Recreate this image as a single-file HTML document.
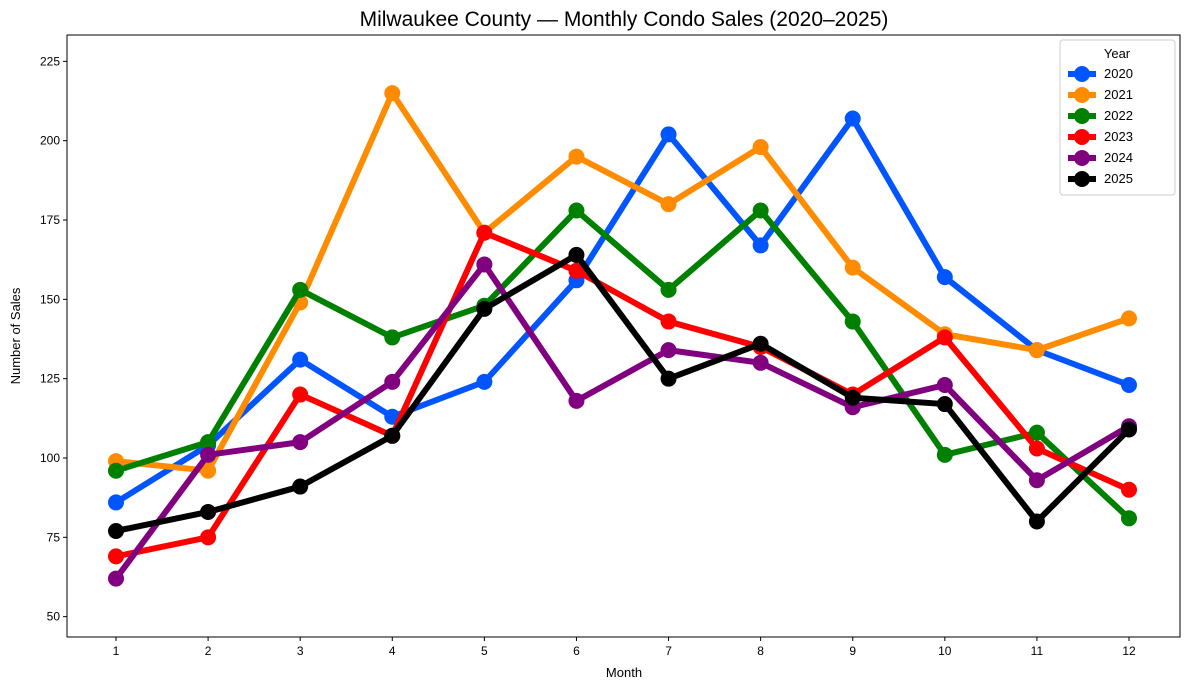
<!DOCTYPE html>
<html><head><meta charset="utf-8"><style>body{margin:0;background:#fff}svg{display:block}text{font-family:"Liberation Sans",sans-serif}</style></head>
<body>
<svg width="1189" height="690" xmlns="http://www.w3.org/2000/svg">
<rect width="1189" height="690" fill="#fff"/>
<text x="624" y="26" font-size="21" text-anchor="middle">Milwaukee County — Monthly Condo Sales (2020–2025)</text>
<g id="ax" font-size="12" fill="#000"></g>
<g id="series"></g>
<rect x="67" y="35" width="1113" height="602" fill="none" stroke="#000" stroke-width="1"/>
<text x="624" y="677" font-size="13" text-anchor="middle">Month</text>
<text transform="translate(20,336) rotate(-90)" font-size="13" text-anchor="middle">Number of Sales</text>
<g id="legend"></g>
<script>
const ns="http://www.w3.org/2000/svg";
function el(t,a,p,txt){const e=document.createElementNS(ns,t);for(const k in a)e.setAttribute(k,a[k]);if(txt!==undefined)e.textContent=txt;p.appendChild(e);return e;}
const X=m=>116+(m-1)*(1129-116)/11, Y=v=>458-(v-100)*3.173;
const ax=document.getElementById('ax');
for(let m=1;m<=12;m++){el('line',{x1:X(m),x2:X(m),y1:637,y2:641,stroke:'#000'},ax);el('text',{x:X(m),y:655,'text-anchor':'middle'},ax,m);}
for(let v=50;v<=225;v+=25){el('line',{x1:63,x2:67,y1:Y(v),y2:Y(v),stroke:'#000'},ax);el('text',{x:60,y:Y(v)+4,'text-anchor':'end'},ax,v);}
const S=[["2020","#0055ff",[86,104,131,113,124,156,202,167,207,157,134,123]],
["2021","#ff8c00",[99,96,149,215,171,195,180,198,160,139,134,144]],
["2022","#008000",[96,105,153,138,148,178,153,178,143,101,108,81]],
["2023","#ff0000",[69,75,120,107,171,159,143,135,120,138,103,90]],
["2024","#800080",[62,101,105,124,161,118,134,130,116,123,93,110]],
["2025","#000000",[77,83,91,107,147,164,125,136,119,117,80,109]]];
const g=document.getElementById('series');
S.forEach(([n,c,d])=>{el('polyline',{points:d.map((v,i)=>X(i+1)+','+Y(v)).join(' '),fill:'none',stroke:c,'stroke-width':6,'stroke-linejoin':'round'},g);d.forEach((v,i)=>el('circle',{cx:X(i+1),cy:Y(v),r:8,fill:c},g));});
const lg=document.getElementById('legend');
el('rect',{x:1060,y:40,width:115,height:155,rx:3,fill:'#fff','fill-opacity':0.8,stroke:'#ccc'},lg);
el('text',{x:1117,y:58,'font-size':13,'text-anchor':'middle'},lg,'Year');
S.forEach(([n,c],i)=>{const y=74+i*21;el('line',{x1:1068,x2:1096,y1:y,y2:y,stroke:c,'stroke-width':6},lg);el('circle',{cx:1082,cy:y,r:8,fill:c},lg);el('text',{x:1104,y:y+4,'font-size':13},lg,n);});
</script>
</svg>
</body></html>
